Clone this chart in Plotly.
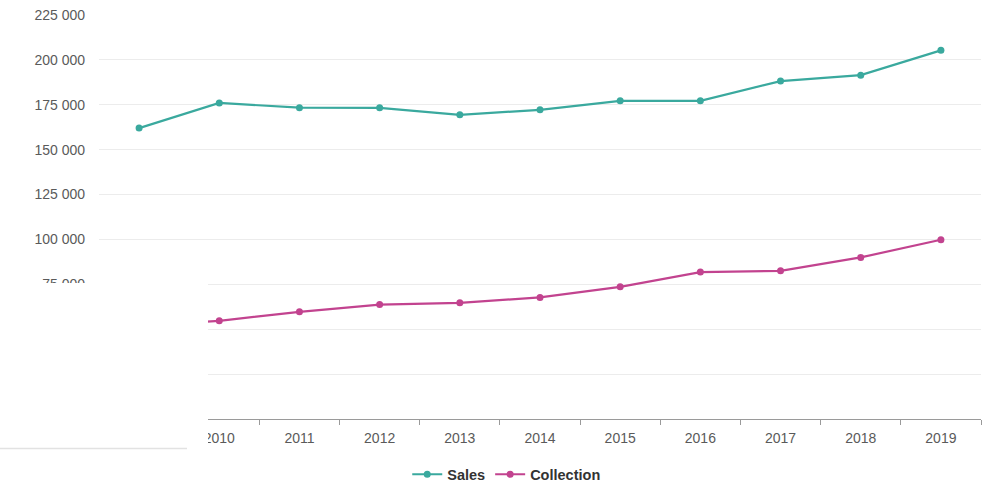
import plotly.graph_objects as go

years = ["2009", "2010", "2011", "2012", "2013", "2014", "2015", "2016", "2017", "2018", "2019"]
sales = [162000, 176000, 173400, 173300, 169400, 172200, 177200, 177200, 188200, 191500, 205300]
collection = [52000, 54700, 59700, 63700, 64700, 67700, 73600, 81800, 82500, 90000, 99800]
y_ticks = [0, 25000, 50000, 75000, 100000, 125000, 150000, 175000, 200000, 225000]

TEAL = "#3aa99e"
PINK = "#c2438f"

fig = go.Figure()
fig.add_trace(go.Scatter(x=years, y=sales, name="Sales", mode="lines+markers",
                         line=dict(color=TEAL, width=2.2),
                         marker=dict(color=TEAL, size=7)))
fig.add_trace(go.Scatter(x=years, y=collection, name="Collection", mode="lines+markers",
                         line=dict(color=PINK, width=2.2),
                         marker=dict(color=PINK, size=7)))

W, H = 983, 484
L, R, T, B = 99, 2, 15, 65
pw, ph = W - L - R, H - T - B

def px_x(px):
    return (px - L) / pw

def px_y(py):
    return (H - B - py) / ph

FONT = "Liberation Sans, Arial, sans-serif"

fig.update_layout(
    width=W, height=H,
    margin=dict(l=L, r=R, t=T, b=B, autoexpand=False),
    paper_bgcolor="white", plot_bgcolor="white",
    separators=". ",
    font=dict(family=FONT, size=14, color="#5a5a5a"),
    showlegend=True,
    legend=dict(orientation="h", xref="container", yref="container",
                x=0.515, y=0.02, xanchor="center", yanchor="middle",
                font=dict(size=14.5, color="#333333", family=FONT, weight="bold"),
                itemwidth=30, tracegroupgap=0, itemclick=False),
    xaxis=dict(type="category", range=[-0.5, len(years) - 0.5],
               showgrid=False, showline=True, linecolor="#9a9a9a", linewidth=1,
               ticks="outside", ticklen=5, tickcolor="#9a9a9a", tickson="boundaries",
               ticklabelstandoff=6, automargin=False,
               tickfont=dict(size=14, color="#5a5a5a")),
    yaxis=dict(range=[0, 225000], tickvals=y_ticks, tickformat=",d", showgrid=True,
               gridcolor="#ececec", gridwidth=1, zeroline=False, showline=False,
               ticklabelstandoff=13, automargin=False,
               tickfont=dict(size=14, color="#5a5a5a")),
    shapes=[
        dict(type="rect", xref="paper", yref="paper", layer="above",
             x0=px_x(-5), x1=px_x(208), y0=px_y(447), y1=px_y(283),
             fillcolor="white", line=dict(width=0)),
        dict(type="line", xref="paper", yref="paper", layer="above",
             x0=px_x(0), x1=px_x(187), y0=px_y(448.5), y1=px_y(448.5),
             line=dict(color="#e2e2e2", width=1.5)),
    ],
)

fig.write_html("out.html")
